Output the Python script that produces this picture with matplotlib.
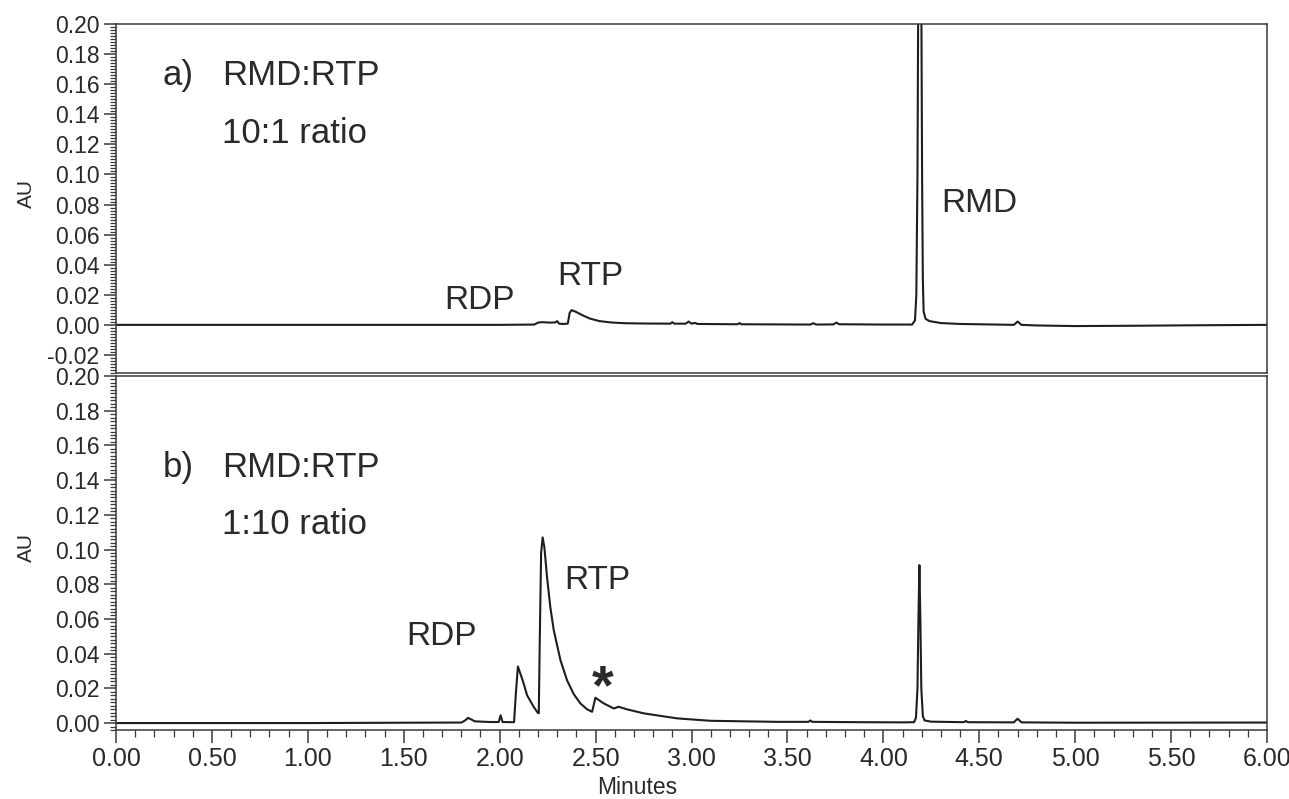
import matplotlib
matplotlib.use("Agg")
import matplotlib.pyplot as plt
from matplotlib.ticker import MultipleLocator, FormatStrFormatter

plt.rcParams['font.family'] = ['Liberation Sans', 'DejaVu Sans']

# ---- data (time in minutes, absorbance in AU) ----
top_t = [0.00, 1.00, 2.00, 2.18, 2.20, 2.22, 2.26, 2.29, 2.30, 2.31, 2.33, 2.355,
         2.365, 2.375, 2.40, 2.43, 2.47, 2.52, 2.58, 2.65, 2.75, 2.89, 2.90, 2.91,
         2.97, 2.985, 3.00, 3.02, 3.03, 3.24, 3.25, 3.26, 3.62, 3.635, 3.65, 3.74,
         3.755, 3.77, 4.00, 4.15, 4.165, 4.172, 4.178, 4.183, 4.19, 4.197, 4.202,
         4.206, 4.21, 4.22, 4.24, 4.30, 4.40, 4.68, 4.70, 4.72, 4.80, 5.00, 5.30,
         5.60, 6.00]
top_au = [0.0, 0.0, 0.0, 0.0002, 0.0015, 0.0018, 0.0015, 0.0016, 0.0025, 0.0008,
          0.0006, 0.0008, 0.008, 0.0098, 0.0085, 0.0065, 0.0042, 0.0025, 0.0016,
          0.0011, 0.0009, 0.0008, 0.0018, 0.0008, 0.0008, 0.0022, 0.0008, 0.0013,
          0.0006, 0.0004, 0.0012, 0.0004, 0.0002, 0.0011, 0.0002, 0.0003, 0.0015,
          0.0004, 0.0002, 0.0002, 0.003, 0.02, 0.10, 0.25, 0.60, 0.25, 0.10, 0.03,
          0.009, 0.004, 0.0025, 0.0012, 0.0006, 0.0, 0.0022, 0.0, -0.0004, -0.0008,
          -0.0006, -0.0003, 0.0]

bot_t = [0.00, 1.00, 1.50, 1.80, 1.82, 1.835, 1.85, 1.87, 1.95, 1.995, 2.005, 2.015,
         2.075, 2.085, 2.095, 2.12, 2.143, 2.177, 2.198, 2.204, 2.208, 2.216, 2.224,
         2.233, 2.247, 2.264, 2.282, 2.317, 2.351, 2.386, 2.421, 2.456, 2.482, 2.499,
         2.543, 2.595, 2.62, 2.664, 2.751, 2.925, 3.10, 3.27, 3.447, 3.61, 3.62,
         3.63, 3.88, 4.10, 4.16, 4.17, 4.178, 4.183, 4.188, 4.193, 4.198, 4.206,
         4.215, 4.25, 4.42, 4.43, 4.44, 4.68, 4.70, 4.72, 5.00, 6.00]
bot_au = [0.0, 0.0, 0.0002, 0.0003, 0.0015, 0.003, 0.0022, 0.001, 0.0006, 0.0006,
          0.0045, 0.0006, 0.0005, 0.018, 0.0326, 0.0246, 0.016, 0.0094, 0.006,
          0.0057, 0.04, 0.098, 0.107, 0.1014, 0.084, 0.0669, 0.0535, 0.0362, 0.0247,
          0.0167, 0.0113, 0.0079, 0.0065, 0.0146, 0.0113, 0.0084, 0.0094, 0.0079,
          0.0056, 0.0027, 0.0013, 0.001, 0.0007, 0.0007, 0.0015, 0.0007, 0.0005,
          0.0004, 0.0005, 0.003, 0.02, 0.06, 0.091, 0.06, 0.02, 0.004, 0.0015,
          0.0008, 0.0005, 0.0012, 0.0005, 0.0004, 0.0025, 0.0004, 0.0002, 0.0003]

x_ticks = [0.0, 0.5, 1.0, 1.5, 2.0, 2.5, 3.0, 3.5, 4.0, 4.5, 5.0, 5.5, 6.0]

top_panel_label = ["a)", "RMD:RTP", "10:1 ratio"]
bot_panel_label = ["b)", "RMD:RTP", "1:10 ratio"]

LINE = '#1e1e1e'
SPINE = '#3a3a3a'
TXT = '#2a2a2a'

fig = plt.figure(figsize=(12.89, 7.99), dpi=100)
ax1 = fig.add_axes([116/1289, 1-373/799, (1267-116)/1289, (373-24)/799])
ax2 = fig.add_axes([116/1289, 1-730/799, (1267-116)/1289, (730-376)/799])

ax1.plot(top_t, top_au, color=LINE, lw=1.5)
ax2.plot(bot_t, bot_au, color=LINE, lw=1.5)

ax1.set_ylim(-0.032, 0.20)
ax2.set_ylim(-0.004, 0.20)
for ax in (ax1, ax2):
    ax.set_xlim(0, 6.0)
    ax.yaxis.set_major_locator(MultipleLocator(0.02))
    ax.yaxis.set_minor_locator(MultipleLocator(0.002))
    ax.yaxis.set_major_formatter(FormatStrFormatter('%.2f'))
    ax.tick_params(axis='y', which='major', direction='out', length=9, width=1.1,
                   color=SPINE, labelsize=16.5, labelcolor=TXT, pad=3)
    ax.tick_params(axis='y', which='minor', direction='out', length=4.5, width=0.9,
                   color=SPINE)
    for s in ax.spines.values():
        s.set_color(SPINE)
        s.set_linewidth(1.1)

ax1.set_xticks([])
ax1.set_xticks([], minor=True)
ax2.set_xticks(x_ticks)
ax2.xaxis.set_major_formatter(FormatStrFormatter('%.2f'))
ax2.xaxis.set_minor_locator(MultipleLocator(0.1))
ax2.tick_params(axis='x', which='major', direction='out', length=9, width=1.1,
                color=SPINE, labelsize=18, labelcolor=TXT, pad=3)
ax2.tick_params(axis='x', which='minor', direction='out', length=5, width=0.9,
                color=SPINE)

# axis labels
fig.text(26/1289, 1-193/799, "AU", rotation=90, ha='center', va='center',
         fontsize=15, color=TXT)
fig.text(26/1289, 1-548/799, "AU", rotation=90, ha='center', va='center',
         fontsize=15, color=TXT)
fig.text(637/1289, 1-787/799, "Minutes", ha='center', va='center',
         fontsize=16.5, color=TXT)

BIG = 25
# panel titles
ax1.text(0.245, 0.166, top_panel_label[0], fontsize=BIG, color=TXT, va='center', ha='left')
ax1.text(0.553, 0.166, top_panel_label[1], fontsize=BIG, color=TXT, va='center', ha='left')
ax1.text(0.553, 0.127, top_panel_label[2], fontsize=BIG, color=TXT, va='center', ha='left')
ax2.text(0.245, 0.147, bot_panel_label[0], fontsize=BIG, color=TXT, va='center', ha='left')
ax2.text(0.553, 0.147, bot_panel_label[1], fontsize=BIG, color=TXT, va='center', ha='left')
ax2.text(0.553, 0.1144, bot_panel_label[2], fontsize=BIG, color=TXT, va='center', ha='left')

PK = 24
ax1.text(1.894, 0.0164, "RDP", fontsize=PK, color=TXT, ha='center', va='center')
ax1.text(2.473, 0.032, "RTP", fontsize=PK, color=TXT, ha='center', va='center')
ax1.text(4.50, 0.0807, "RMD", fontsize=PK, color=TXT, ha='center', va='center')
ax2.text(1.696, 0.050, "RDP", fontsize=PK, color=TXT, ha='center', va='center')
ax2.text(2.51, 0.0822, "RTP", fontsize=PK, color=TXT, ha='center', va='center')
ax2.text(2.536, 0.0195, "*", fontsize=40, fontweight='bold', color=TXT,
         ha='center', va='center')

fig.savefig("out.png", dpi=100, facecolor='white')
